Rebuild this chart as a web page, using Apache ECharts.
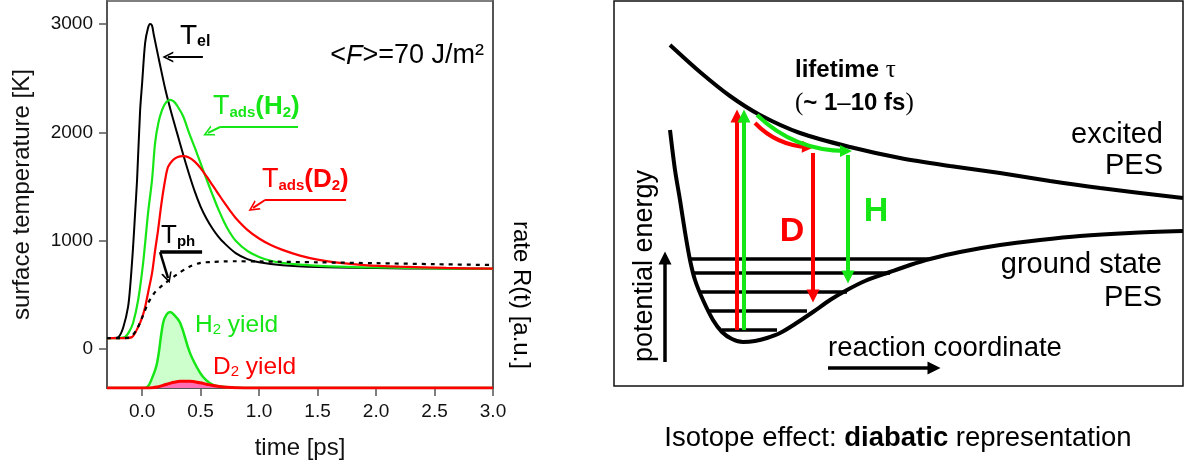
<!DOCTYPE html>
<html>
<head>
<meta charset="utf-8">
<script src="https://cdn.jsdelivr.net/npm/echarts@6/dist/echarts.min.js"></script>
<style>
html, body { margin: 0; padding: 0; background: #fff; }
#chart { width: 1187px; height: 471px; }
</style>
</head>
<body>
<div id="chart"></div>
<script>
// ---- left panel: temperatures [K] vs time [ps] ----
var tEl = [-0.3, -0.25, -0.2, -0.16, -0.12, -0.1, -0.077, -0.06, -0.043, -0.017, 0.0, 0.026, 0.05, 0.068, 0.085, 0.1, 0.15, 0.2, 0.25, 0.3, 0.35, 0.4, 0.45, 0.5, 0.55, 0.6, 0.65, 0.7, 0.8, 0.9, 1.0, 1.2, 1.5, 2.0, 2.5, 3.0];
var tempEl = [100, 101, 112, 203, 388, 600, 942, 1250, 1560, 2200, 2450, 2825, 2960, 3000, 2985, 2900, 2640, 2390, 2180, 1990, 1800, 1620, 1455, 1315, 1205, 1115, 1040, 980, 885, 830, 800, 772, 756, 747, 742, 740];

var tH = [-0.3, -0.2, -0.145, -0.11, -0.077, -0.034, 0.009, 0.051, 0.085, 0.111, 0.14, 0.171, 0.2, 0.239, 0.27, 0.3, 0.35, 0.4, 0.45, 0.5, 0.55, 0.6, 0.65, 0.7, 0.75, 0.8, 0.9, 1.0, 1.1, 1.2, 1.35, 1.6, 2.0, 2.5, 3.0];
var tempH = [100, 101, 111, 160, 240, 450, 795, 1255, 1560, 1900, 2090, 2206, 2270, 2300, 2285, 2245, 2150, 2000, 1860, 1715, 1570, 1430, 1295, 1175, 1075, 1000, 905, 850, 815, 795, 778, 763, 752, 744, 740];

var tD = [-0.3, -0.15, -0.085, -0.034, 0.0, 0.026, 0.055, 0.085, 0.11, 0.137, 0.165, 0.197, 0.222, 0.26, 0.3, 0.35, 0.4, 0.45, 0.5, 0.55, 0.6, 0.65, 0.7, 0.75, 0.8, 0.9, 1.0, 1.1, 1.2, 1.35, 1.5, 1.65, 1.9, 2.2, 2.6, 3.0];
var tempD = [100, 101, 111, 203, 290, 388, 540, 700, 900, 1100, 1340, 1560, 1680, 1740, 1770, 1780, 1768, 1730, 1670, 1595, 1515, 1435, 1355, 1280, 1210, 1100, 1020, 960, 915, 862, 825, 800, 775, 760, 748, 742];

var tPh = [-0.3, -0.15, -0.1, -0.05, 0.0, 0.05, 0.1, 0.15, 0.2, 0.3, 0.4, 0.5, 0.6, 0.7, 0.8, 1.0, 1.5, 2.0, 2.5, 3.0];
var tempPh = [100, 101, 112, 170, 290, 420, 510, 565, 610, 690, 757, 795, 803, 808, 810, 808, 800, 792, 783, 775];

// desorption rates (a.u., H2 peak = 1)
var tY = [-0.3, 0.0, 0.04, 0.085, 0.128, 0.18, 0.21, 0.24, 0.27, 0.325, 0.41, 0.496, 0.55, 0.607, 0.66, 0.727, 0.8, 0.9, 1.0, 3.0];
var yieldH2 = [0, 0, 0.01, 0.13, 0.33, 0.86, 0.97, 1.0, 0.97, 0.86, 0.46, 0.2, 0.1, 0.04, 0.02, 0.01, 0.003, 0, 0, 0];
var yieldD2 = [0, 0, 0, 0.003, 0.012, 0.035, 0.05, 0.063, 0.075, 0.088, 0.088, 0.068, 0.05, 0.032, 0.02, 0.01, 0.004, 0.001, 0, 0];

var timeTicks = [0, 0.5, 1.0, 1.5, 2.0, 2.5, 3.0];
var tempTicks = [0, 1000, 2000, 3000];

// annotation arrows (time, temperature)
var elArrow = [[0.52, 2695], [0.22, 2695]];
var hArrow = [[1.333, 2049], [0.667, 2049]];
var hHead = [[0.667, 2049], [0.564, 1994]];
var dArrow = [[1.744, 1375], [1.051, 1375]];
var dHead = [[1.051, 1375], [0.949, 1302]];
var phArrow = [[0.513, 895], [0.154, 895]];
var phHead = [[0.154, 895], [0.222, 655]];

// ---- right panel: schematic PES (reaction coordinate, energy) ----
var excitedX = [56, 86, 116, 146, 186, 236, 286, 336, 386, 436, 486, 569];
var excitedE = [341, 314, 290, 271, 253, 239, 228, 220, 213, 205, 198, 188];
var groundX = [56, 61, 66, 71, 76, 81, 89, 99, 108, 118, 129, 141, 153, 166, 181, 199, 216, 233, 251, 276, 296, 316, 346, 386, 426, 466, 516, 569];
var groundE = [256, 216, 186, 154, 126, 106, 86, 66, 54, 47, 44, 45, 48, 53, 62, 74, 86, 96, 105, 114, 121, 127, 134, 141, 146, 150, 153, 155];
var levelE = [127, 113, 94, 75, 56];
var levelX0 = [76, 79, 86, 94, 108];
var levelX1 = [316, 276, 233, 193, 163];
var upRed = [[123, 56], [123, 270]];
var upGreen = [[130, 56], [130, 270]];
var hopRed = [[141, 263], [194, 239]];
var hopGreen = [[143, 271], [232, 235]];
var downRed = [[199, 233], [199, 90]];
var downGreen = [[234, 231], [234, 109]];
var energyArrow = [[51, 24], [51, 128]];
var coordArrow = [[214, 18], [320, 18]];

var GREEN = '#16e616';
var RED = '#ff0000';
var FONT = 'Arial, "Liberation Sans", sans-serif';
var CHEVRON = 'path://M0,10 L5,0 L10,10 L8.4,10 L5,3.2 L1.6,10 Z';

function pairs(a, b) {
    var out = [];
    for (var i = 0; i < a.length; i++) out.push([a[i], b[i]]);
    return out;
}

function txt(x, y, text, o) {
    o = o || {};
    return {
        type: 'text', x: x, y: y, rotation: o.rot || 0, z: 100,
        style: {
            text: text, fill: o.color || '#000', fontSize: o.size || 24, fontFamily: o.family || FONT,
            fontWeight: o.weight || 'normal',
            textAlign: o.align || 'left', align: o.align || 'left',
            textVerticalAlign: 'middle', verticalAlign: 'middle',
            rich: o.rich
        }
    };
}

function sub(size, color, weight) {
    return { fontSize: size, fill: color, fontWeight: weight || 'normal', fontFamily: FONT, verticalAlign: 'bottom' };
}
function big(size, color, weight) {
    return { fontSize: size, fill: color, fontWeight: weight || 'normal', fontFamily: FONT };
}

function arrow(coords, color, width, xi, yi, head, size) {
    return {
        type: 'lines', coordinateSystem: 'cartesian2d', xAxisIndex: xi, yAxisIndex: yi,
        symbol: ['none', head || 'none'], symbolSize: size || 10,
        lineStyle: { color: color, width: width, opacity: 1, curveness: 0 },
        data: [{ coords: coords }], z: 5, silent: true
    };
}

function curvedArrow(coords, color) {
    return {
        type: 'lines', coordinateSystem: 'cartesian2d', xAxisIndex: 1, yAxisIndex: 2,
        symbol: ['none', 'triangle'], symbolSize: 12,
        lineStyle: { color: color, width: 4, opacity: 1, curveness: -0.2 },
        data: [{ coords: coords }], z: 5, silent: true
    };
}

var levelLines = [];
for (var i = 0; i < levelE.length; i++) {
    levelLines.push({ coords: [[levelX0[i], levelE[i]], [levelX1[i], levelE[i]]] });
}

var chart = echarts.init(document.getElementById('chart'));

var axisGray = '#555';

var option = {
    animation: false,
    grid: [
        { left: 107, top: 1, width: 386, height: 387, show: true, borderColor: axisGray, borderWidth: 1.5 },
        { left: 614, top: 1, width: 569, height: 385, show: true, borderColor: '#111', borderWidth: 1.5 }
    ],
    xAxis: [
        {
            gridIndex: 0, type: 'value', min: -0.3, max: 3.0,
            name: 'time [ps]', nameLocation: 'middle', nameGap: 48,
            nameTextStyle: { fontSize: 24, color: '#111', fontFamily: FONT },
            axisLine: { onZero: false, lineStyle: { color: axisGray, width: 2 } },
            axisTick: { customValues: timeTicks, length: 8, lineStyle: { color: axisGray, width: 1.5 } },
            axisLabel: {
                customValues: timeTicks, margin: 14, fontSize: 19, color: '#111', fontFamily: FONT,
                formatter: function (v) { return v.toFixed(1); }
            },
            splitLine: { show: false }
        },
        { gridIndex: 1, type: 'value', min: 0, max: 569, show: false }
    ],
    yAxis: [
        {
            gridIndex: 0, type: 'value', min: -360, max: 3212,
            name: 'surface temperature [K]', nameLocation: 'middle', nameGap: 73,
            nameTextStyle: { fontSize: 24, color: '#111', fontFamily: FONT },
            axisLine: { show: true, onZero: false, lineStyle: { color: axisGray, width: 2 } },
            axisTick: { customValues: tempTicks, length: 8, lineStyle: { color: axisGray, width: 1.5 } },
            axisLabel: {
                customValues: tempTicks, margin: 14, fontSize: 19, color: '#111', fontFamily: FONT,
                formatter: function (v) { return String(v); }
            },
            splitLine: { show: false }
        },
        {
            gridIndex: 0, type: 'value', min: 0, max: 5.1, position: 'right',
            axisLine: { show: true, onZero: false, lineStyle: { color: axisGray, width: 2 } },
            axisTick: { show: false }, axisLabel: { show: false }, splitLine: { show: false }
        },
        { gridIndex: 1, type: 'value', min: 0, max: 385, show: false }
    ],
    series: [
        {
            type: 'line', name: 'H2 yield', xAxisIndex: 0, yAxisIndex: 1, data: pairs(tY, yieldH2),
            showSymbol: false, smooth: 0.4, lineStyle: { color: GREEN, width: 2.5 },
            areaStyle: { color: '#ccffcc', opacity: 1, origin: 'start' }, z: 2
        },
        {
            type: 'line', name: 'D2 yield', xAxisIndex: 0, yAxisIndex: 1, data: pairs(tY, yieldD2),
            showSymbol: false, smooth: 0.4, lineStyle: { color: RED, width: 3 },
            areaStyle: { color: '#ff6eb4', opacity: 1, origin: 'start' }, z: 3
        },
        {
            type: 'line', name: 'T_el', xAxisIndex: 0, yAxisIndex: 0, data: pairs(tEl, tempEl),
            showSymbol: false, smooth: 0.3, lineStyle: { color: '#000', width: 2 }, z: 4
        },
        {
            type: 'line', name: 'T_ads(H2)', xAxisIndex: 0, yAxisIndex: 0, data: pairs(tH, tempH),
            showSymbol: false, smooth: 0.3, lineStyle: { color: GREEN, width: 2.2 }, z: 4
        },
        {
            type: 'line', name: 'T_ads(D2)', xAxisIndex: 0, yAxisIndex: 0, data: pairs(tD, tempD),
            showSymbol: false, smooth: 0.3, lineStyle: { color: RED, width: 2.2 }, z: 4
        },
        {
            type: 'line', name: 'T_ph', xAxisIndex: 0, yAxisIndex: 0, data: pairs(tPh, tempPh),
            showSymbol: false, smooth: 0.3, lineStyle: { color: '#000', width: 2.2, type: [4, 5] }, z: 4
        },
        arrow(elArrow, '#000', 2, 0, 0, CHEVRON, [12, 11]),
        arrow(hArrow, GREEN, 2, 0, 0),
        arrow(hHead, GREEN, 2, 0, 0, CHEVRON, [13, 11]),
        arrow(dArrow, RED, 2, 0, 0),
        arrow(dHead, RED, 2, 0, 0, CHEVRON, [13, 11]),
        arrow(phArrow, '#000', 3.5, 0, 0),
        arrow(phHead, '#000', 2.5, 0, 0, CHEVRON, [12, 11]),

        // schematic
        {
            type: 'line', name: 'excited PES', xAxisIndex: 1, yAxisIndex: 2, data: pairs(excitedX, excitedE),
            showSymbol: false, smooth: 0.3, lineStyle: { color: '#000', width: 4 }, z: 3
        },
        {
            type: 'line', name: 'ground PES', xAxisIndex: 1, yAxisIndex: 2, data: pairs(groundX, groundE),
            showSymbol: false, smooth: 0.3, lineStyle: { color: '#000', width: 4 }, z: 3
        },
        {
            type: 'lines', coordinateSystem: 'cartesian2d', xAxisIndex: 1, yAxisIndex: 2,
            lineStyle: { color: '#000', width: 3.5, opacity: 1 }, data: levelLines, z: 3, silent: true
        },
        arrow(upRed, RED, 4, 1, 2, 'triangle', 13),
        arrow(upGreen, GREEN, 4, 1, 2, 'triangle', 13),
        curvedArrow(hopRed, RED),
        curvedArrow(hopGreen, GREEN),
        arrow(downRed, RED, 4, 1, 2, 'triangle', 13),
        arrow(downGreen, GREEN, 4, 1, 2, 'triangle', 13),
        arrow(energyArrow, '#000', 3.5, 1, 2, 'triangle', 13),
        arrow(coordArrow, '#000', 3.5, 1, 2, 'triangle', 13)
    ],
    graphic: [
        txt(180, 36, '{a|T}{s|el}', { rich: { a: big(28, '#000'), s: sub(16, '#000', 'bold') } }),
        txt(484, 56, '<{i|F}>=70 J/m²', { align: 'right', size: 27, rich: { i: { fontSize: 27, fontStyle: 'italic', fontFamily: FONT, fill: '#000' } } }),
        txt(213, 107, '{a|T}{s|ads}{b|(H}{s|2}{b|)}', { rich: { a: big(27, GREEN), s: sub(15, GREEN, 'bold'), b: big(26, GREEN, 'bold') } }),
        txt(262, 180, '{a|T}{s|ads}{b|(D}{s|2}{b|)}', { rich: { a: big(27, RED), s: sub(15, RED, 'bold'), b: big(26, RED, 'bold') } }),
        txt(161, 236, '{a|T}{s|ph}', { rich: { a: big(26, '#000'), s: sub(15, '#000', 'bold') } }),
        txt(195, 325, '{a|H}{s|2}{a| yield}', { rich: { a: big(24.5, GREEN), s: sub(15, GREEN) } }),
        txt(213, 367, '{a|D}{s|2}{a| yield}', { rich: { a: big(24.5, RED), s: sub(15, RED) } }),
        txt(521, 295, 'rate R(t) [a.u.]', { rot: -Math.PI / 2, align: 'center', size: 24 }),

        txt(795, 70, 'lifetime {t|τ}', { weight: 'bold', size: 24, rich: { t: { fontSize: 25, fontFamily: '"Liberation Serif", "DejaVu Serif", serif', fill: '#000' } } }),
        txt(795, 103, '{p|(}{b|~ 1}{n|–}{b|10 fs}{p|)}', {
            rich: {
                p: { fontSize: 25, fontFamily: '"Liberation Serif", serif', fill: '#000' },
                b: { fontSize: 24, fontWeight: 'bold', fontFamily: FONT, fill: '#000' },
                n: { fontSize: 24, fontFamily: FONT, fill: '#000' }
            }
        }),
        txt(1163, 135, 'excited', { align: 'right', size: 29 }),
        txt(1163, 166, 'PES', { align: 'right', size: 29 }),
        txt(1162, 265, 'ground state', { align: 'right', size: 29 }),
        txt(1162, 298, 'PES', { align: 'right', size: 29 }),
        txt(792, 232, 'D', { align: 'center', size: 34, weight: 'bold', color: RED }),
        txt(876, 212, 'H', { align: 'center', size: 34, weight: 'bold', color: GREEN }),
        txt(645, 266, 'potential energy', { rot: Math.PI / 2, align: 'center', size: 27 }),
        txt(828, 348, 'reaction coordinate', { size: 27.5 }),
        txt(898, 438, 'Isotope effect: {b|diabatic} representation', {
            align: 'center', size: 27.5, rich: { b: { fontSize: 27.5, fontWeight: 'bold', fontFamily: FONT, fill: '#000' } }
        })
    ]
};

chart.setOption(option);
</script>
</body>
</html>
